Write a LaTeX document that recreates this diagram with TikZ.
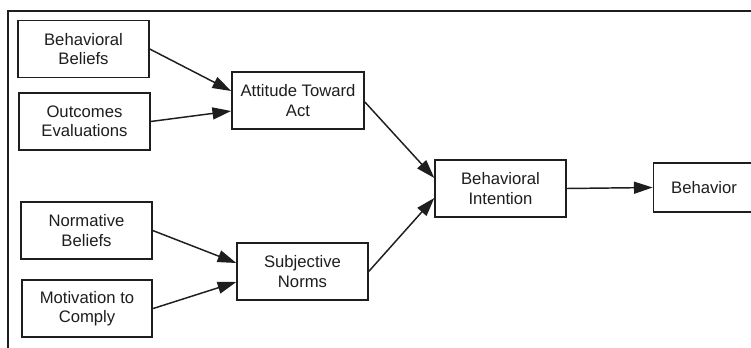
\documentclass[tikz,border=0pt]{standalone}
\usepackage{fontspec}
\setmainfont{Liberation Sans}
\usetikzlibrary{arrows.meta,calc}
\definecolor{ink}{HTML}{1E1E1E}
\begin{document}
\begin{tikzpicture}[x=0.75pt,y=-0.75pt,
  box/.style={draw=ink,line width=1.3pt,inner sep=0pt,align=center,text=ink,
    minimum width=98pt,minimum height=42.75pt,font=\fontsize{12.5}{14.4}\selectfont},
  link/.style={draw=ink,line width=1.1pt,-{Triangle[length=14pt,width=9pt]}}]
\useasboundingbox (0,0) rectangle (751,347);
\clip (0,0) rectangle (751,347);
\fill[white] (0,0) rectangle (751,347);
% outer frame (top and left edges visible)
\draw[ink,line width=1.6pt] (8,360) -- (8,11) -- (760,11);
\node[box] (bb)  at (83.5,49)   {Behavioral\\Beliefs};
\node[box] (oe)  at (84.5,121.5){Outcomes\\Evaluations};
\node[box] (nb)  at (86.5,230.5){Normative\\Beliefs};
\node[box] (mc)  at (87,308.5)  {Motivation to\\Comply};
\node[box,minimum width=99pt] (ata) at (298,100.5) {Attitude Toward\\Act};
\node[box] (sn)  at (302.5,271.5){Subjective\\Norms};
\node[box] (bi)  at (500.5,188.5){Behavioral\\Intention};
\node[box,minimum width=84pt,minimum height=36.75pt] (beh) at (709.5,187.5) {\hspace*{-8.2pt}Behavior};
\draw[link] (bb.east) -- ($(ata.west)+(0,-9.5)$);
\draw[link] (oe.east) -- ($(ata.west)+(0,10.5)$);
\draw[link] ($(ata.east)+(0,1.5)$) -- ($(bi.west)+(0,-10.5)$);
\draw[link] (sn.east) -- ($(bi.west)+(0,9.5)$);
\draw[link] (nb.east) -- ($(sn.west)+(0,-8.5)$);
\draw[link] (mc.east) -- ($(sn.west)+(0,10.5)$);
\draw[link] (bi.east) -- (beh.west);
\end{tikzpicture}
\end{document}
